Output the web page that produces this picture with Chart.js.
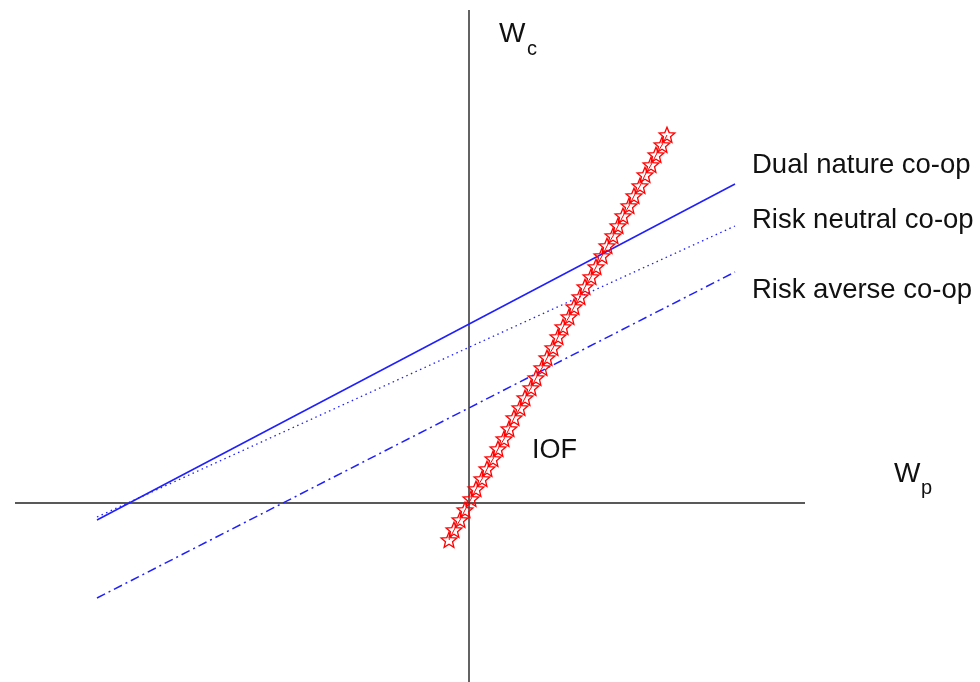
<!DOCTYPE html>
<html lang="en">
<head>
    <meta charset="UTF-8">
    <title>Co-op vs IOF</title>
    <script src="https://cdn.jsdelivr.net/npm/chart.js@4.4.0/dist/chart.umd.min.js"></script>
    <style>
        html, body { margin: 0; padding: 0; background: #fff; }
        #wrap { width: 980px; height: 682px; }
    </style>
</head>
<body>
    <div id="wrap"><canvas id="chart" width="980" height="682"></canvas></div>

    <script>
        // Line end points (Wp, Wc)
        const lineX = [-3.72, 2.66];
        const dualY = [-0.17, 3.19];
        const neutralY = [-0.14, 2.77];
        const averseY = [-0.95, 2.31];

        // IOF star markers
        const iofX = [-0.20, -0.15, -0.09, -0.04, 0.02, 0.07, 0.13, 0.18, 0.24, 0.29,
                      0.35, 0.40, 0.45, 0.51, 0.56, 0.62, 0.67, 0.73, 0.78, 0.84,
                      0.89, 0.94, 1.00, 1.05, 1.11, 1.16, 1.22, 1.27, 1.33, 1.38,
                      1.44, 1.49, 1.54, 1.60, 1.65, 1.71, 1.76, 1.82, 1.87, 1.93, 1.98];
        const iofY = [-0.37, -0.27, -0.17, -0.07, 0.04, 0.14, 0.24, 0.34, 0.44, 0.54,
                      0.64, 0.74, 0.85, 0.95, 1.05, 1.15, 1.25, 1.35, 1.45, 1.55,
                      1.66, 1.76, 1.86, 1.96, 2.06, 2.16, 2.26, 2.36, 2.47, 2.57,
                      2.67, 2.77, 2.87, 2.97, 3.07, 3.17, 3.28, 3.38, 3.48, 3.58, 3.68];

        // Axis lines
        const wpAxisX = [-4.54, 3.36];
        const wcAxisY = [4.93, -1.79];

        const seriesLabels = ['Dual nature co-op', 'Risk neutral co-op', 'Risk averse co-op', 'IOF'];

        const toPoints = (xs, ys) => xs.map((x, i) => ({ x: x, y: ys[i] }));

        // open red five-point star used as the IOF marker
        function makeStar() {
            const c = document.createElement('canvas');
            c.width = 20; c.height = 20;
            const g = c.getContext('2d');
            g.strokeStyle = '#ff0000';
            g.lineWidth = 1.3;
            g.beginPath();
            for (let i = 0; i < 10; i++) {
                const r = i % 2 === 0 ? 8.3 : 3.7;
                const a = -Math.PI / 2 + i * Math.PI / 5;
                const px = 10 + r * Math.cos(a), py = 10.6 + r * Math.sin(a);
                if (i === 0) g.moveTo(px, py); else g.lineTo(px, py);
            }
            g.closePath();
            g.stroke();
            return c;
        }

        // text labels placed in data coordinates
        const labelPlugin = {
            id: 'labels',
            afterDatasetsDraw(chart) {
                const { ctx, scales: { x, y } } = chart;
                const put = (txt, dx, dy, size) => {
                    ctx.font = size + 'px "Liberation Sans", Arial, sans-serif';
                    ctx.fillText(txt, x.getPixelForValue(dx), y.getPixelForValue(dy));
                };
                ctx.save();
                ctx.fillStyle = '#111';
                ctx.textBaseline = 'alphabetic';
                put(seriesLabels[0], 2.83, 3.30, 27.5);
                put(seriesLabels[1], 2.83, 2.75, 27.5);
                put(seriesLabels[2], 2.83, 2.05, 27.5);
                put(seriesLabels[3], 0.63, 0.45, 27);
                put('W', 0.30, 4.61, 28);
                put('c', 0.58, 4.48, 20);
                put('W', 4.25, 0.21, 28);
                put('p', 4.52, 0.09, 20);
                ctx.restore();
            }
        };

        const blue = '#1f1fff';

        new Chart(document.getElementById('chart'), {
            type: 'scatter',
            data: {
                datasets: [
                    {
                        label: seriesLabels[3],
                        data: toPoints(iofX, iofY),
                        showLine: true,
                        borderColor: '#ff0000',
                        borderWidth: 1,
                        pointStyle: makeStar(),
                        pointRadius: 8
                    },
                    {
                        label: seriesLabels[0],
                        data: toPoints(lineX, dualY),
                        showLine: true,
                        borderColor: blue,
                        borderWidth: 1.5,
                        pointRadius: 0
                    },
                    {
                        label: seriesLabels[1],
                        data: toPoints(lineX, neutralY),
                        showLine: true,
                        borderColor: blue,
                        borderWidth: 1.3,
                        borderDash: [1.5, 3.5],
                        pointRadius: 0
                    },
                    {
                        label: seriesLabels[2],
                        data: toPoints(lineX, averseY),
                        showLine: true,
                        borderColor: blue,
                        borderWidth: 1.5,
                        borderDash: [9, 4, 2, 4],
                        pointRadius: 0
                    },
                    {
                        label: 'Wp axis',
                        data: toPoints(wpAxisX, [0, 0]),
                        showLine: true,
                        borderColor: '#222',
                        borderWidth: 1.4,
                        pointRadius: 0
                    },
                    {
                        label: 'Wc axis',
                        data: toPoints([0, 0], wcAxisY),
                        showLine: true,
                        borderColor: '#222',
                        borderWidth: 1.4,
                        pointRadius: 0
                    }
                ]
            },
            options: {
                responsive: false,
                animation: false,
                layout: { padding: 0, autoPadding: false },
                plugins: {
                    legend: { display: false },
                    tooltip: { enabled: false }
                },
                scales: {
                    x: { type: 'linear', min: -4.69, max: 5.11, display: false },
                    y: { type: 'linear', min: -1.79, max: 5.03, display: false }
                }
            },
            plugins: [labelPlugin]
        });
    </script>
</body>
</html>
